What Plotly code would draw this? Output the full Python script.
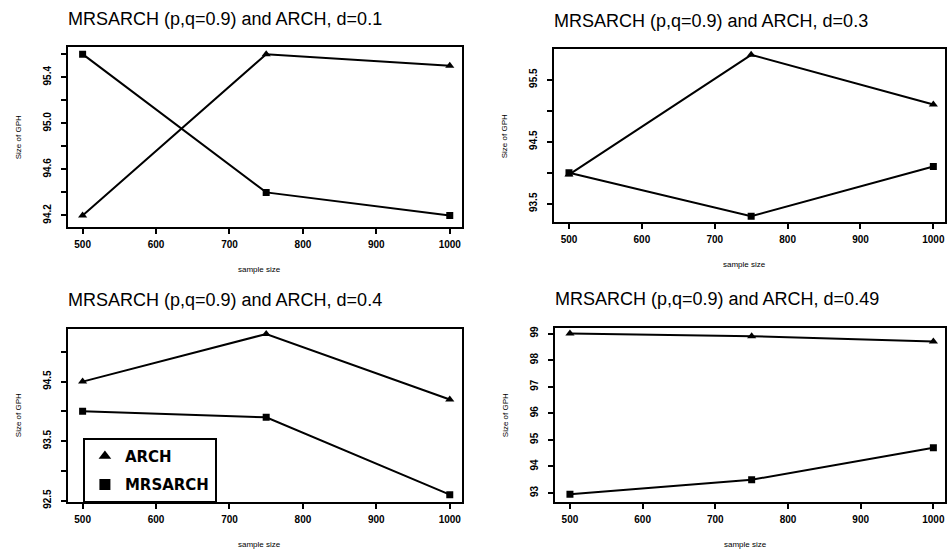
import plotly.graph_objects as go

# Sample sizes shared by every panel
sample_size = [500, 750, 1000]
x_ticks = [500, 600, 700, 800, 900, 1000]

# Size of GPH test, one pair of series per memory parameter d
arch_d01 = [94.2, 95.6, 95.5]
mrsarch_d01 = [95.6, 94.4, 94.2]

arch_d03 = [93.97, 95.9, 95.1]
mrsarch_d03 = [94.0, 93.3, 94.1]

arch_d04 = [94.5, 95.3, 94.2]
mrsarch_d04 = [94.0, 93.9, 92.6]

arch_d049 = [99.0, 98.9, 98.7]
mrsarch_d049 = [92.95, 93.5, 94.7]

titles = [
    "MRSARCH (p,q=0.9) and ARCH, d=0.1",
    "MRSARCH (p,q=0.9) and ARCH, d=0.3",
    "MRSARCH (p,q=0.9) and ARCH, d=0.4",
    "MRSARCH (p,q=0.9) and ARCH, d=0.49",
]

# y tick positions and their labels (blank = unlabeled tick)
y_ticks = [
    ([94.2, 94.4, 94.6, 94.8, 95.0, 95.2, 95.4, 95.6],
     ["94.2", "", "94.6", "", "95.0", "", "95.4", ""]),
    ([93.5, 94.0, 94.5, 95.0, 95.5],
     ["93.5", "", "94.5", "", "95.5"]),
    ([92.5, 93.0, 93.5, 94.0, 94.5, 95.0],
     ["92.5", "", "93.5", "", "94.5", ""]),
    ([93, 94, 95, 96, 97, 98, 99],
     ["93", "94", "95", "96", "97", "98", "99"]),
]
y_ranges = [[94.097, 95.66], [93.2, 95.99], [92.48, 95.39], [92.67, 99.22]]

W, H = 947, 557
# panel boxes in pixels: (left, right, top, bottom)
boxes = [(68, 462, 46, 229), (555, 946, 48, 224),
         (68, 462, 332, 508), (556, 946, 331, 508)]

series = [(arch_d01, mrsarch_d01), (arch_d03, mrsarch_d03),
          (arch_d04, mrsarch_d04), (arch_d049, mrsarch_d049)]

FONT = "Liberation Sans, Arial, sans-serif"
fig = go.Figure()

for i, ((arch, mrs), (l, r, t, b)) in enumerate(zip(series, boxes)):
    n = "" if i == 0 else str(i + 1)
    xa, ya = "x" + n, "y" + n
    fig.add_trace(go.Scatter(
        x=sample_size, y=arch, mode="lines+markers", name="ARCH",
        line=dict(color="black", width=2),
        marker=dict(symbol="triangle-up", size=8, color="black"),
        xaxis=xa, yaxis=ya, showlegend=False))
    fig.add_trace(go.Scatter(
        x=sample_size, y=mrs, mode="lines+markers", name="MRSARCH",
        line=dict(color="black", width=2),
        marker=dict(symbol="square", size=7, color="black"),
        xaxis=xa, yaxis=ya, showlegend=False))

    tv, tt = y_ticks[i]
    fig.update_layout(**{
        "xaxis" + n: dict(
            domain=[l / W, r / W], range=[480, 1016], anchor=ya,
            tickvals=x_ticks, ticktext=[str(v) for v in x_ticks],
            showline=True, linecolor="black", linewidth=2, mirror=True,
            ticks="outside", ticklen=5, tickwidth=1.5, tickcolor="black",
            showgrid=False, zeroline=False, ticklabelstandoff=2,
            tickfont=dict(size=10, family=FONT, color="black", weight="bold")),
        "yaxis" + n: dict(
            domain=[1 - b / H, 1 - t / H], range=y_ranges[i], anchor=xa,
            tickvals=tv, ticktext=tt, tickangle=-90,
            showline=True, linecolor="black", linewidth=2, mirror=True,
            ticks="outside", ticklen=5, tickwidth=1.5, tickcolor="black",
            showgrid=False, zeroline=False, ticklabelstandoff=6,
            tickfont=dict(size=10, family=FONT, color="black", weight="bold")),
    })

    # panel title
    fig.add_annotation(
        text=titles[i], xref="paper", yref="paper",
        x=(l - 2) / W, y=1 - (t - 29) / H, xanchor="left", yanchor="middle",
        showarrow=False, font=dict(size=18, family=FONT, color="black"))
    # y axis title
    fig.add_annotation(
        text="Size of GPH", xref="paper", yref="paper",
        x=(l - 50) / W, y=1 - ((t + b) / 2) / H, textangle=-90,
        xanchor="center", yanchor="middle", showarrow=False,
        font=dict(size=8, family=FONT, color="black"))
    # x axis title
    fig.add_annotation(
        text="sample size", xref="paper", yref="paper",
        x=((l + r) / 2 - 5) / W, y=1 - (b + 43) / H,
        xanchor="center", yanchor="middle", showarrow=False,
        font=dict(size=8, family=FONT, color="black"))

# legend entries (symbols only) shown inside the d=0.4 panel
fig.add_trace(go.Scatter(x=[None], y=[None], mode="markers", name="ARCH",
                         marker=dict(symbol="triangle-up", size=11, color="black"),
                         xaxis="x3", yaxis="y3", legendgroup="a"))
fig.add_trace(go.Scatter(x=[None], y=[None], mode="markers", name="MRSARCH",
                         marker=dict(symbol="square", size=11, color="black"),
                         xaxis="x3", yaxis="y3", legendgroup="m"))

fig.update_layout(
    width=W, height=H,
    margin=dict(l=0, r=0, t=0, b=0),
    paper_bgcolor="white", plot_bgcolor="white",
    showlegend=True,
    legend=dict(
        x=83 / W, y=1 - 443 / H, xanchor="left", yanchor="top",
        bordercolor="black", borderwidth=2, bgcolor="white",
        font=dict(size=15, family="DejaVu Sans, sans-serif", color="black",
                  weight="bold"),
        tracegroupgap=6, itemwidth=30),
)

fig.write_html("out.html")
